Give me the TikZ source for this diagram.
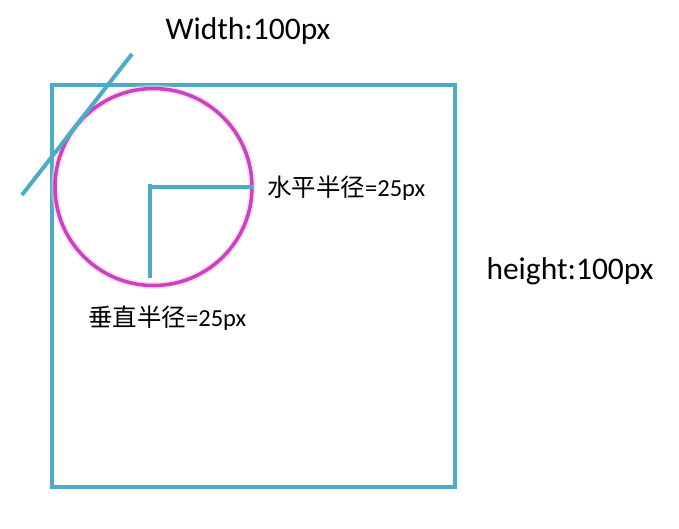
\documentclass[tikz,border=0pt]{standalone}
\usepackage{fontspec}
\setmainfont{Carlito}
\newfontfamily\cjk{Noto Sans CJK SC}
\definecolor{teal}{RGB}{75,172,198}
\definecolor{mag}{RGB}{204,64,196}
\definecolor{glow}{RGB}{240,205,215}
\tikzset{
  tealline/.style={draw=teal, line width=3.5pt},
  bigtext/.style={font=\fontsize{31.5}{38}\selectfont, inner sep=0pt},
  smalltext/.style={font=\fontsize{24.5}{30}\selectfont, inner sep=0pt, anchor=west},
}
\begin{document}
\begin{tikzpicture}[x=1pt,y=-1pt]
\useasboundingbox (0,0) rectangle (679,528);
% square
\draw[tealline] (52,85) rectangle (455,487);
% circle with glow
\draw[glow, line width=7pt, opacity=0.6] (153.5,187) circle (98.5);
\draw[mag, line width=3.5pt] (153.5,187) circle (98.5);
% radius lines
\coordinate (c) at (150,187);
\coordinate (r) at (253,187);
\coordinate (b) at (150,278);
\coordinate (ct) at (150,184);
\draw[tealline] (c) -- (r);
\draw[tealline] (ct) -- (b);
% tangent
\coordinate (t1) at (22,195);
\coordinate (t2) at (132,54);
\draw[tealline, line width=4pt] (t1) -- (t2);
% labels
\node[bigtext] (w) at (248,31) {Width:100px};
\node[bigtext] (h) at (570,271) {height:100px};
\node[smalltext] (hr) at (267,188) {{\cjk 水平半径}=25px};
\node[smalltext] (vr) at (88,318) {{\cjk 垂直半径}=25px};
\end{tikzpicture}
\end{document}
